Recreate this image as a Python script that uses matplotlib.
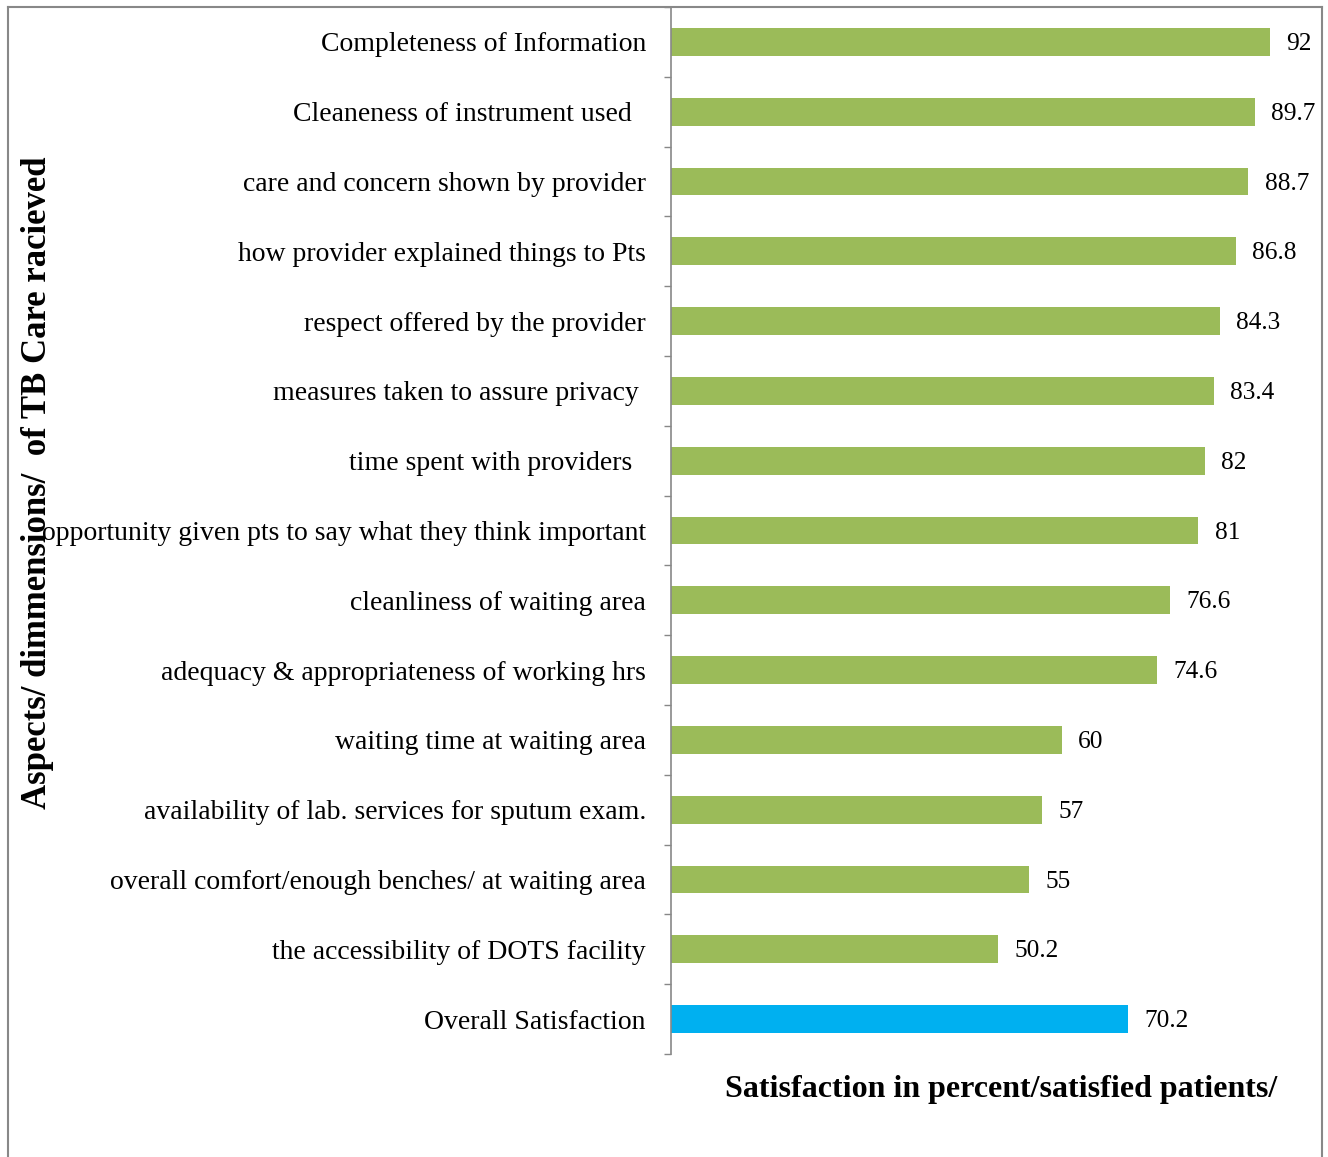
import matplotlib
matplotlib.use("Agg")
import matplotlib.pyplot as plt
from matplotlib.lines import Line2D

categories = [
    "Completeness of Information",
    "Cleaneness of instrument used  ",
    "care and concern shown by provider",
    "how provider explained things to Pts",
    "respect offered by the provider",
    "measures taken to assure privacy ",
    "time spent with providers  ",
    "opportunity given pts to say what they think important",
    "cleanliness of waiting area",
    "adequacy & appropriateness of working hrs",
    "waiting time at waiting area",
    "availability of lab. services for sputum exam.",
    "overall comfort/enough benches/ at waiting area",
    "the accessibility of DOTS facility",
    "Overall Satisfaction",
]
values = [92, 89.7, 88.7, 86.8, 84.3, 83.4, 82, 81, 76.6, 74.6, 60, 57, 55, 50.2, 70.2]
value_labels = ["92", "89.7", "88.7", "86.8", "84.3", "83.4", "82", "81", "76.6", "74.6",
                "60", "57", "55", "50.2", "70.2"]
colors = ["#9BBB59"] * 14 + ["#00B0F0"]

plt.rcParams['font.family'] = ['Liberation Serif', 'DejaVu Serif']

W, H = 1328, 1157
fig = plt.figure(figsize=(W / 100, H / 100), dpi=100)
ax = fig.add_axes([671 / W, 1 - 1054 / H, (1322 - 671) / W, (1054 - 7) / H])

n = len(categories)
ypos = list(range(n))
ax.barh(ypos, values, height=0.4, color=colors)
ax.set_xlim(0, 100)
ax.set_ylim(n - 0.5, -0.5)

for y, v, lab in zip(ypos, values, value_labels):
    ax.text(v + 2.5, y + 0.03, lab, va="center", ha="left", fontsize=18.3, color="black")

ax.set_yticks(ypos)
ax.set_yticklabels(categories, fontsize=20)
ax.tick_params(axis="y", which="major", length=0, pad=18)
ax.set_yticks([i - 0.5 for i in range(n + 1)], minor=True)
ax.tick_params(axis="y", which="minor", length=5, color="#888888", width=1)
ax.set_xticks([])
for s in ["top", "right", "bottom"]:
    ax.spines[s].set_visible(False)
ax.spines["left"].set_color("#888888")
ax.spines["left"].set_linewidth(1.2)

# outer frame
fc = "#888888"
fig.add_artist(Line2D([8 / W, 8 / W], [0, 1 - 7 / H], transform=fig.transFigure, color=fc, lw=1.5))
fig.add_artist(Line2D([8 / W, 1322 / W], [1 - 7 / H, 1 - 7 / H], transform=fig.transFigure, color=fc, lw=1.5))
fig.add_artist(Line2D([1322 / W, 1322 / W], [0, 1 - 7 / H], transform=fig.transFigure, color=fc, lw=1.5))

fig.text(1001 / W, 1 - 1090 / H, "Satisfaction in percent/satisfied patients/",
         ha="center", va="center", fontsize=23, fontweight="bold")
fig.text(38 / W, 1 - 483 / H, "Aspects/ dimmensions/  of TB Care racieved",
         ha="center", va="center", rotation=90, fontsize=25, fontweight="bold")

fig.savefig("out.png", dpi=100)
